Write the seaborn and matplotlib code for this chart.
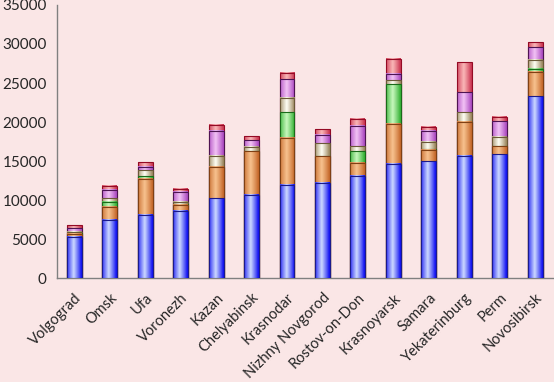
import numpy as np
import pandas as pd
import seaborn as sns
import matplotlib.pyplot as plt

# data
cities = ["Volgograd", "Omsk", "Ufa", "Voronezh", "Kazan", "Chelyabinsk", "Krasnodar",
          "Nizhny Novgorod", "Rostov-on-Don", "Krasnoyarsk", "Samara", "Yekaterinburg",
          "Perm", "Novosibirsk"]
blue = [5300, 7450, 8100, 8650, 10250, 10700, 11950, 12200, 13100, 14650, 14950, 15700, 15850, 23300]
orange = [400, 1650, 4600, 750, 4000, 5550, 6000, 3400, 1650, 5150, 1500, 4300, 1050, 3100]
green = [50, 700, 350, 50, 0, 0, 3300, 0, 1500, 5050, 50, 50, 0, 450]
cream = [150, 450, 750, 350, 1400, 550, 1850, 1650, 650, 500, 950, 1200, 1200, 1100]
purple = [500, 1050, 500, 1250, 3200, 850, 2350, 1150, 2650, 850, 1400, 2550, 2000, 1600]
red = [350, 500, 550, 400, 800, 500, 850, 650, 850, 1900, 550, 3850, 550, 650]

layers = [blue, orange, green, cream, purple, red]
# (edge colour, centre colour, line colour)
styles = [((0.08, 0.08, 0.95), (0.80, 0.85, 1.00), (0.10, 0.10, 0.55)),
          ((0.78, 0.42, 0.18), (0.97, 0.76, 0.56), (0.50, 0.25, 0.08)),
          ((0.22, 0.70, 0.22), (0.78, 0.97, 0.74), (0.10, 0.42, 0.10)),
          ((0.62, 0.54, 0.38), (1.00, 1.00, 0.96), (0.42, 0.35, 0.22)),
          ((0.68, 0.30, 0.76), (0.95, 0.76, 0.96), (0.30, 0.08, 0.32)),
          ((0.80, 0.22, 0.33), (0.98, 0.72, 0.72), (0.58, 0.04, 0.14))]

cum = np.cumsum(np.array(layers), axis=0)
df = pd.DataFrame({"city": cities})
for i in range(len(layers)):
    df["cum%d" % i] = cum[i]

bg = "#fae6e6"
sns.set_style("white")
plt.rcParams["font.family"] = ["Lato", "DejaVu Sans"]
fig = plt.figure(figsize=(5.54, 3.82), dpi=100, facecolor=bg)
ax = fig.add_axes([0.102, 0.272, 0.896, 0.715], facecolor=bg)

# horizontal shading across each bar: dark edges, light centre a bit left of middle
t = np.linspace(0, 1, 64)
w = np.clip(1 - np.abs(t - 0.45) / 0.5, 0, 1) ** 0.9
for k in range(len(layers) - 1, -1, -1):
    edge, mid, line = styles[k]
    sns.barplot(data=df, x="city", y="cum%d" % k, color=edge, width=0.42,
                errorbar=None, ax=ax, order=cities)
    cont = ax.containers[-1]
    z = 2 + (len(layers) - 1 - k)
    grad = np.array(edge)[None, :] + (np.array(mid) - np.array(edge))[None, :] * w[:, None]
    grad = grad[None, :, :]
    for p in cont.patches:
        x0, y0 = p.get_x(), p.get_y()
        x1, y1 = x0 + p.get_width(), y0 + p.get_height()
        ax.imshow(grad, extent=[x0, x1, y0, y1], aspect="auto", zorder=z,
                  interpolation="bilinear")
        p.set_facecolor("none")
        p.set_edgecolor(line)
        p.set_linewidth(0.8)
        p.set_zorder(z + 0.5)

ax.set_xlim(-0.5, len(cities) - 0.5)
ax.set_ylim(0, 35000)
ax.set_yticks(range(0, 35001, 5000))
ax.set_xticks(range(len(cities)))
ax.set_xticks(np.arange(-0.5, len(cities), 1.0), minor=True)
ax.set_xticklabels(cities, rotation=45, ha="right", rotation_mode="anchor", fontsize=10.5)
ax.tick_params(axis="x", which="major", length=0, pad=9)
ax.tick_params(axis="x", which="minor", length=4, color="#808080", width=1)
ax.tick_params(axis="y", length=4, color="#808080", width=1, labelsize=11, pad=3)
ax.set_xlabel("")
ax.set_ylabel("")
for s in ["top", "right"]:
    ax.spines[s].set_visible(False)
for s in ["left", "bottom"]:
    ax.spines[s].set_color("#808080")
    ax.spines[s].set_linewidth(1)

fig.savefig("out.png", dpi=100, facecolor=bg)
